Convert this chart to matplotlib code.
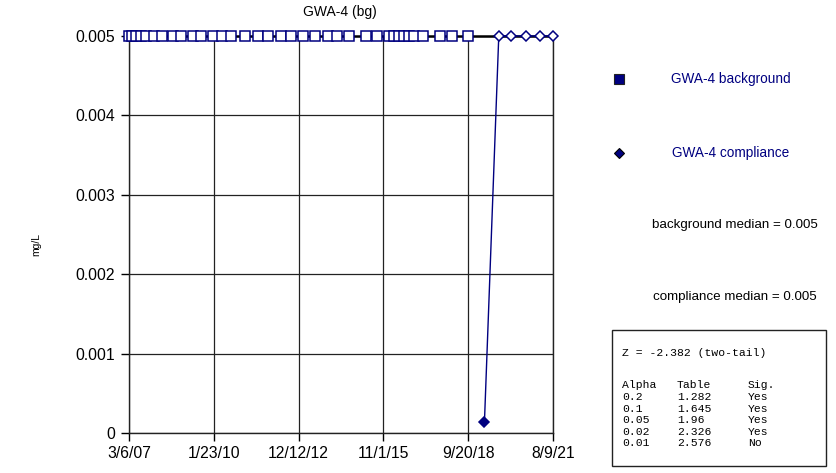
import matplotlib
matplotlib.use("Agg")
import matplotlib.pyplot as plt
from matplotlib.lines import Line2D
from matplotlib.patches import Rectangle
import pandas as pd

title = "GWA-4 (bg)"
ylabel = "mg/L"

bg_dates = ["2007-03-06", "2007-04-12", "2007-06-01", "2007-08-02", "2007-10-03",
            "2008-01-11", "2008-04-19", "2008-09-03", "2008-12-11", "2009-05-10",
            "2009-08-17", "2010-01-13", "2010-05-05", "2010-08-25", "2011-02-15",
            "2011-07-26", "2011-11-28", "2012-05-07", "2012-09-09", "2013-02-05",
            "2013-07-04", "2013-12-13", "2014-04-03", "2014-08-31", "2015-03-30",
            "2015-08-14", "2016-01-10", "2016-03-12", "2016-05-13", "2016-07-14",
            "2016-09-14", "2016-11-16", "2017-03-07", "2017-10-05", "2018-03-03",
            "2018-09-18"]
bg_values = [0.005] * len(bg_dates)
bg_nd = [True] * len(bg_dates)

cp_dates = ["2019-04-10", "2019-10-05", "2020-03-10", "2020-09-10", "2021-03-05", "2021-08-09"]
cp_values = [0.00014, 0.005, 0.005, 0.005, 0.005, 0.005]
cp_nd = [False, True, True, True, True, True]

xtick_dates = ["2007-03-06", "2010-01-23", "2012-12-12", "2015-11-01", "2018-09-20", "2021-08-09"]
xtick_labels = ["3/6/07", "1/23/10", "12/12/12", "11/1/15", "9/20/18", "8/9/21"]
ytick_values = [0, 0.001, 0.002, 0.003, 0.004, 0.005]
ytick_labels = ["0", "0.001", "0.002", "0.003", "0.004", "0.005"]

legend_bg = "GWA-4 background"
legend_cp = "GWA-4 compliance"
bg_median_text = "background median = 0.005"
cp_median_text = "compliance median = 0.005"
z_text = "Z = -2.382 (two-tail)"
stat_header = ["Alpha", "Table", "Sig."]
stat_alpha = ["0.2", "0.1", "0.05", "0.02", "0.01"]
stat_table = ["1.282", "1.645", "1.96", "2.326", "2.576"]
stat_sig = ["Yes", "Yes", "Yes", "Yes", "No"]

navy = "#000080"
plt.rcParams['font.family'] = ['Liberation Sans', 'DejaVu Sans']

W, H = 837, 473
fig = plt.figure(figsize=(W / 100, H / 100), dpi=100)
ax = fig.add_axes([129 / W, 1 - 433 / H, (553 - 129) / W, (433 - 36) / H])

bgd = pd.to_datetime(bg_dates)
cpd = pd.to_datetime(cp_dates)
xt = pd.to_datetime(xtick_dates)

ax.set_xlim(xt[0], xt[-1])
ax.set_ylim(0, 0.005)

for d, v, nd in zip(bgd, bg_values, bg_nd):
    ax.plot([d], [v], marker='s', ms=6.8, mec=navy, mew=1.1,
            mfc='white' if nd else navy, ls='none', zorder=5, clip_on=False)

ax.plot(cpd, cp_values, color=navy, lw=1, zorder=4, clip_on=False)
for d, v, nd in zip(cpd, cp_values, cp_nd):
    ax.plot([d], [v], marker='D', ms=5.2, mec=navy, mew=1.1,
            mfc='white' if nd else navy, ls='none', zorder=6, clip_on=False)

ax.set_xticks(xt)
ax.set_xticklabels(xtick_labels)
ax.set_yticks(ytick_values)
ax.set_yticklabels(ytick_labels)
ax.tick_params(axis='both', direction='out', length=6, width=1, colors='black', labelsize=11.3)
ax.tick_params(axis='x', pad=3)
ax.tick_params(axis='y', pad=4)
ax.grid(True, color='#222222', lw=0.9)
ax.set_axisbelow(True)
for s in ['left', 'bottom', 'right']:
    ax.spines[s].set_color('#222222')
    ax.spines[s].set_linewidth(1)
ax.spines['top'].set_color('black')
ax.spines['top'].set_linewidth(1.8)

fig.text(340 / W, 1 - 12 / H, title, ha='center', va='center', fontsize=10)
fig.text(36 / W, 1 - 245 / H, ylabel, ha='center', va='center', rotation=90, fontsize=7.5)

# legend
fig.add_artist(Line2D([619 / W], [1 - 79 / H], marker='s', ms=7.8, mfc=navy, mec='#222222', mew=0.8,
                      ls='none', transform=fig.transFigure))
fig.text(671 / W, 1 - 79 / H, legend_bg, ha='left', va='center', fontsize=9.8, color=navy)
fig.add_artist(Line2D([619 / W], [1 - 153 / H], marker='D', ms=5.4, mfc=navy, mec='black', mew=0.8,
                      ls='none', transform=fig.transFigure))
fig.text(672 / W, 1 - 153 / H, legend_cp, ha='left', va='center', fontsize=9.8, color=navy)
fig.text(735 / W, 1 - 225 / H, bg_median_text, ha='center', va='center', fontsize=9.6)
fig.text(735 / W, 1 - 297 / H, cp_median_text, ha='center', va='center', fontsize=9.6)

# stats box
fig.add_artist(Rectangle((612 / W, 1 - 466 / H), (826 - 612) / W, (466 - 330) / H,
                         transform=fig.transFigure, fill=False, ec='#222222', lw=1))
mono = dict(family=['Liberation Mono', 'DejaVu Sans Mono'], fontsize=8.2, va='center', ha='left')
fig.text(622 / W, 1 - 353 / H, z_text, **mono)
cols = [622, 677, 748]
for c, h in zip(cols, stat_header):
    fig.text(c / W, 1 - 385 / H, h, **mono)
for i, (a, t, s) in enumerate(zip(stat_alpha, stat_table, stat_sig)):
    y = 1 - (397 + 11.5 * i) / H
    fig.text(cols[0] / W, y, a, **mono)
    fig.text(cols[1] / W, y, t, **mono)
    fig.text(cols[2] / W, y, s, **mono)

fig.savefig("out.png", dpi=100)
